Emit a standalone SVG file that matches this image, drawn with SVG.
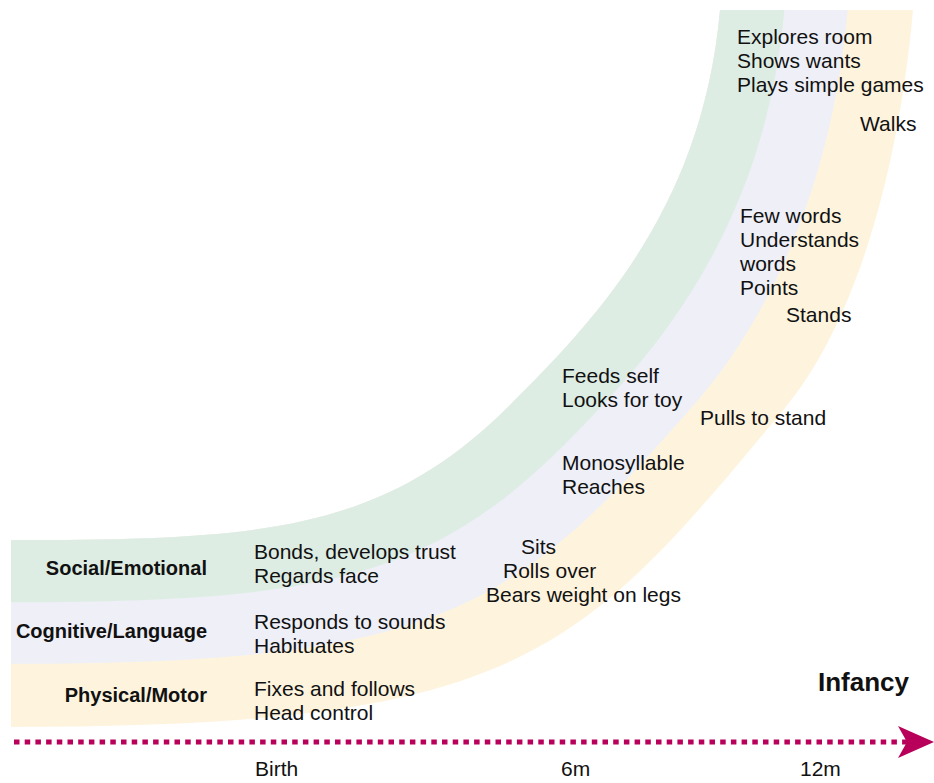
<svg xmlns="http://www.w3.org/2000/svg" width="934" height="783" viewBox="0 0 934 783">
<style>
.t{font-family:"Liberation Sans",Arial,Helvetica,sans-serif;font-size:21px;fill:#111}
.b{font-family:"Liberation Sans",Arial,Helvetica,sans-serif;font-size:20px;font-weight:bold;fill:#111;text-anchor:end}
</style>
<defs>
<marker id="ah" viewBox="0 0 36 32" refX="26" refY="16" markerWidth="36" markerHeight="32" markerUnits="userSpaceOnUse" orient="auto">
<path d="M0,0 L36,16 L0,32 L9,16 Z" fill="#b8005a"/>
</marker>
</defs>
<g id="bands">
<path id="physical-band" fill="#fef4de" d="M11,727 C525,727 580,654 785,408 C849,331 897,189 913,10 L720,10 C702.2,209.2 594.8,320.2 510,405 C382.7,532.3 261,540 11,540 Z"/>
<path id="cognitive-band" fill="#eeeff7" d="M11,663.7 C435.6,663.7 513.2,612.8 691.9,407 C762.9,327.3 831,195.8 847.7,10 L720,10 C702.2,209.2 594.8,320.2 510,405 C382.7,532.3 261,540 11,540 Z"/>
<path id="social-band" fill="#deede4" d="M11,602.3 C349,602.3 448.5,572.9 601.7,406 C679.5,323.8 767.1,202.5 784.3,10 L720,10 C702.2,209.2 594.8,320.2 510,405 C382.7,532.3 261,540 11,540 Z"/>
</g>
<g id="connectors">
<line x1="14" y1="742" x2="924" y2="742" stroke="#b8005a" stroke-width="5" stroke-dasharray="5.5 5.2" marker-end="url(#ah)"/>
</g>
<g id="labels">
<text class="b" x="207" y="575">Social/Emotional</text>
<text class="b" x="207" y="638">Cognitive/Language</text>
<text class="b" x="207" y="702">Physical/Motor</text>
</g>
<g id="social">
<text class="t" x="254" y="559">Bonds, develops trust</text>
<text class="t" x="254" y="583">Regards face</text>
<text class="t" x="562" y="383">Feeds self</text>
<text class="t" x="562" y="407">Looks for toy</text>
<text class="t" x="737" y="44">Explores room</text>
<text class="t" x="737" y="68">Shows wants</text>
<text class="t" x="737" y="92">Plays simple games</text>
</g>
<g id="cognitive">
<text class="t" x="254" y="629">Responds to sounds</text>
<text class="t" x="254" y="653">Habituates</text>
<text class="t" x="562" y="470">Monosyllable</text>
<text class="t" x="562" y="494">Reaches</text>
<text class="t" x="740" y="223">Few words</text>
<text class="t" x="740" y="247">Understands</text>
<text class="t" x="740" y="271">words</text>
<text class="t" x="740" y="295">Points</text>
</g>
<g id="physical">
<text class="t" x="254" y="696">Fixes and follows</text>
<text class="t" x="254" y="720">Head control</text>
<text class="t" x="521" y="554">Sits</text>
<text class="t" x="503" y="578">Rolls over</text>
<text class="t" x="486" y="602">Bears weight on legs</text>
<text class="t" x="700" y="425">Pulls to stand</text>
<text class="t" x="786" y="322">Stands</text>
<text class="t" x="860" y="131">Walks</text>
</g>
<g id="axis">
<text class="t" x="818" y="691" style="font-size:26px;font-weight:bold">Infancy</text>
<text class="t" x="255" y="776">Birth</text>
<text class="t" x="561" y="776">6m</text>
<text class="t" x="800" y="776">12m</text>
</g>
</svg>
